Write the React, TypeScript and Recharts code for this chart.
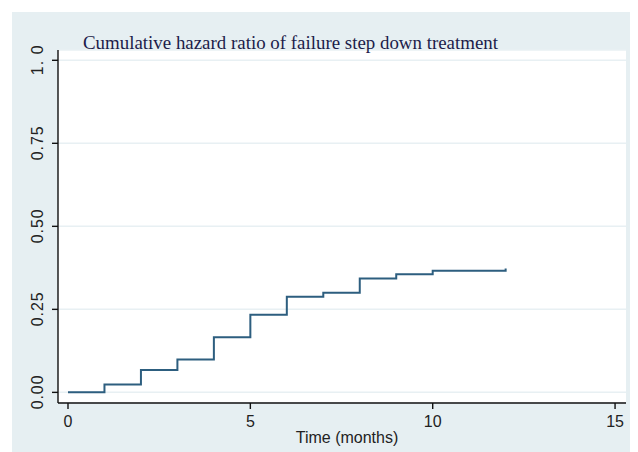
import { LineChart, Line, XAxis, YAxis, CartesianGrid } from 'recharts'

// cumulative hazard estimate
const months = [0, 1, 2, 3, 4, 5, 6, 7, 8, 9, 10, 12, 12]
const cumHazard = [0, 0.024, 0.067, 0.099, 0.166, 0.234, 0.288, 0.3, 0.343, 0.356, 0.366, 0.366, 0.373]

const xTicks = [0, 5, 10, 15]
const yTicks = [0, 0.25, 0.5, 0.75, 1]
const yTickLabels = ['0.00', '0.25', '0.50', '0.75', '1. 0']

const title = 'Cumulative hazard ratio of failure step down treatment'
const xTitle = 'Time (months)'

const data = months.map((t, i) => ({ t, h: cumHazard[i] }))

const sans = '"Liberation Sans", Arial, sans-serif'

function YTick(props: any) {
  const { y, payload } = props
  const idx = yTicks.indexOf(payload.value)
  const label = idx >= 0 ? yTickLabels[idx] : String(payload.value)
  return (
    <text
      x={38}
      y={y}
      transform={`rotate(-90, 38, ${y})`}
      textAnchor="middle"
      dominantBaseline="central"
      fontSize={16}
      fontFamily={sans}
      fill="#222"
      textLength={label === '1. 0' ? 30 : 34}
      lengthAdjust="spacing"
    >
      {label}
    </text>
  )
}

function XTick(props: any) {
  const { x, payload } = props
  return (
    <text x={x} y={426.5} textAnchor="middle" fontSize={16} fontFamily={sans} fill="#222">
      {payload.value}
    </text>
  )
}

export default function App() {
  return (
    <div style={{ position: 'absolute', left: 0, top: 0, width: 638, height: 452, background: '#fff' }}>
      <div
        style={{ position: 'absolute', left: 12, top: 12, width: 618, height: 440, background: '#e6eff2' }}
      />
      <div style={{ position: 'absolute', left: 0, top: 0 }}>
        <LineChart width={638} height={452} data={data} margin={{ top: 50, right: 12, bottom: 0, left: 0 }}>
          <CartesianGrid vertical={false} stroke="#e8f0f3" strokeWidth={1.5} fill="#ffffff" />
          <XAxis
            dataKey="t"
            type="number"
            domain={[-0.274, 15.3]}
            allowDataOverflow
            ticks={xTicks}
            tick={<XTick />}
            tickSize={6}
            height={49}
            axisLine={{ stroke: '#111', strokeWidth: 1.4 }}
            tickLine={{ stroke: '#111', strokeWidth: 1.4 }}
            label={() => (
              <text x={347} y={443} textAnchor="middle" fontSize={16} fontFamily={sans} fill="#222">
                {xTitle}
              </text>
            )}
          />
          <YAxis
            type="number"
            domain={[-0.032, 1.031]}
            allowDataOverflow
            ticks={yTicks}
            tick={<YTick />}
            tickSize={6}
            width={58}
            axisLine={{ stroke: '#111', strokeWidth: 1.4 }}
            tickLine={{ stroke: '#111', strokeWidth: 1.4 }}
          />
          <Line
            type="stepAfter"
            dataKey="h"
            stroke="#2d5e7f"
            strokeWidth={2}
            dot={false}
            isAnimationActive={false}
          />
        </LineChart>
      </div>
      <svg width={638} height={60} style={{ position: 'absolute', left: 0, top: 0 }}>
        <text
          x={83}
          y={49}
          fontSize={19}
          fontFamily='"Liberation Serif", "Times New Roman", serif'
          fill="#1c1c4a"
          textLength={415}
          lengthAdjust="spacingAndGlyphs"
        >
          {title}
        </text>
      </svg>
    </div>
  )
}
